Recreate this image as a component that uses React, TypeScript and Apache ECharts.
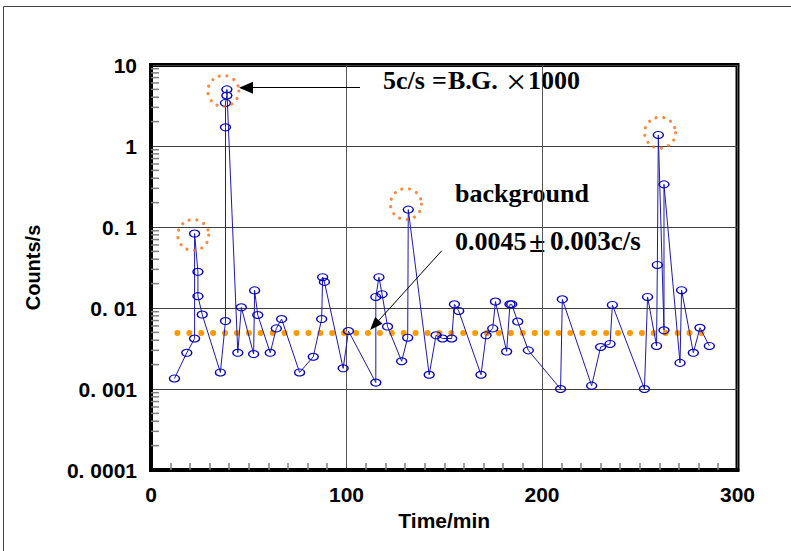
import React, { useEffect, useRef } from "react";
import * as echarts from "echarts";

// ---- data ----
const timeMin = [
  12.0, 18.3, 22.3, 22.3, 24.0, 24.0, 26.2, 35.5, 38.1, 38.1, 38.1, 38.8, 38.8, 44.4, 46.2,
  52.5, 53.0, 54.6, 61.0, 64.1, 66.8, 76.0, 83.0, 87.3, 87.8, 88.7, 98.3, 101.0, 115.0, 115.0,
  116.6, 118.2, 121.0, 128.2, 131.3, 131.6, 142.3, 145.8, 149.2, 153.8, 155.2, 157.4, 168.8,
  171.4, 174.8, 176.2, 181.9, 183.6, 184.5, 187.6, 193.0, 209.5, 210.4, 225.4, 230.0, 234.8,
  236.0, 252.4, 254.0, 258.6, 259.0, 259.5, 262.4, 262.4, 270.6, 271.4, 277.4, 280.8, 285.6,
];
const countsPerSec = [
  0.00135, 0.0028, 0.0042, 0.083, 0.028, 0.014, 0.0083, 0.0016, 0.0069, 1.7, 3.4, 4.2, 5.0,
  0.0028, 0.0102, 0.0027, 0.0165, 0.0082, 0.0028, 0.0056, 0.0073, 0.0016, 0.0025, 0.0073,
  0.024, 0.021, 0.0018, 0.0052, 0.0012, 0.0137, 0.024, 0.0148, 0.0059, 0.0022, 0.0043, 0.164,
  0.0015, 0.0046, 0.0042, 0.0042, 0.0111, 0.0092, 0.0015, 0.0046, 0.0056, 0.012, 0.0029,
  0.0111, 0.0111, 0.0068, 0.003, 0.001, 0.0128, 0.0011, 0.0033, 0.0036, 0.0109, 0.001, 0.0137,
  0.0034, 0.034, 1.37, 0.0053, 0.336, 0.0021, 0.0166, 0.0028, 0.0057, 0.0034,
];
const backgroundLevel = 0.0049;
const backgroundSpan = [13.5, 287];
const peakTimes = [21.6, 37.0, 130.4, 260.4];
const peakValues = [0.0796, 4.77, 0.192, 1.46];
const yTickLabels = ["0. 0001", "0. 001", "0. 01", "0. 1", "1", "10"];
const xTickLabels = ["0", "100", "200", "300"];
const yMinorMultipliers = [2, 3, 4, 5, 6, 7, 8, 9];
const decadeExponents = [-4, -3, -2, -1, 0];
// arrows: [fromTime, fromValue, toTime, toValue]
const arrowBG1000 = [106.9, 5.25, 48.6, 5.25];
const arrowBackground = [148.7, 0.0509, 114.3, 0.00614];

const AXIS_FONT = "Liberation Sans";
const NOTE_FONT = "Liberation Serif";

export default function App() {
  const ref = useRef<HTMLDivElement>(null);
  useEffect(() => {
    if (!ref.current) return;
    const chart = echarts.init(ref.current, null, { renderer: "svg" });
    const mainData = timeMin.map((t, i) => [t, countsPerSec[i]]);
    const minorData: number[][] = [];
    decadeExponents.forEach((e) =>
      yMinorMultipliers.forEach((m) => minorData.push([0, m * Math.pow(10, e)]))
    );
    const noteStyle = (text: string, size = 26, weight = "bold") => ({
      text,
      fontFamily: NOTE_FONT,
      fontWeight: weight,
      fontSize: size,
      fill: "#000",
      verticalAlign: "middle",
      align: "left",
    });
    chart.setOption({
      animation: false,
      backgroundColor: "#fff",
      grid: {
        left: 151,
        right: 53.5,
        top: 65,
        bottom: 81,
        show: true,
        borderColor: "#000",
        borderWidth: 4,
        backgroundColor: "transparent",
      },
      xAxis: {
        type: "value",
        min: 0,
        max: 300,
        interval: 100,
        name: "Time/min",
        nameLocation: "middle",
        nameGap: 40,
        nameTextStyle: { fontFamily: AXIS_FONT, fontWeight: "bold", fontSize: 21, color: "#000" },
        axisLine: { show: true, lineStyle: { color: "#000", width: 4 } },
        axisTick: { show: false, inside: true },
        minorTick: { show: true, splitNumber: 10, length: 7, lineStyle: { color: "#808080", width: 1.5 } },
        splitLine: { show: true, lineStyle: { color: "#555", width: 1 } },
        axisLabel: {
          margin: 14,
          fontFamily: AXIS_FONT,
          fontWeight: "bold",
          fontSize: 21,
          color: "#000",
          formatter: (v: number) => xTickLabels[Math.round(v / 100)] ?? String(v),
        },
      },
      yAxis: {
        type: "log",
        logBase: 10,
        min: 0.0001,
        max: 10,
        name: "Counts/s",
        nameLocation: "middle",
        nameGap: 108,
        nameTextStyle: { fontFamily: AXIS_FONT, fontWeight: "bold", fontSize: 20, color: "#000" },
        axisLine: { show: true, lineStyle: { color: "#000", width: 4 } },
        axisTick: { show: false },
        splitLine: { show: true, lineStyle: { color: "#404040", width: 1 } },
        axisLabel: {
          margin: 14,
          fontFamily: AXIS_FONT,
          fontWeight: "bold",
          fontSize: 21,
          color: "#000",
          formatter: (v: number) => yTickLabels[Math.round(Math.log10(v)) + 4] ?? String(v),
        },
      },
      graphic: [
        {
          type: "rect",
          shape: { x: 3.5, y: 6.5, width: 900, height: 700 },
          style: { fill: "none", stroke: "#444", lineWidth: 1 },
          silent: true,
          z: -10,
        },
        { type: "text", x: 383, y: 80.5, style: noteStyle("5c/s") },
        { type: "text", x: 432, y: 80.5, style: noteStyle("=") },
        { type: "text", x: 448, y: 80.5, style: noteStyle("B.") },
        { type: "text", x: 471, y: 80.5, style: noteStyle("G.") },
        { type: "text", x: 506, y: 81.5, style: noteStyle("×", 36, "normal") },
        { type: "text", x: 528, y: 80.5, style: noteStyle("1000") },
        { type: "text", x: 455, y: 193, style: noteStyle("background") },
        { type: "text", x: 455, y: 241.3, style: noteStyle("0.0045") },
        { type: "text", x: 529, y: 241.3, style: noteStyle("±", 30) },
        { type: "text", x: 550, y: 241.3, style: noteStyle("0.003c/s", 27) },
      ],
      series: [
        {
          type: "custom",
          silent: true,
          clip: false,
          data: minorData,
          renderItem: (_params: any, api: any) => {
            const p = api.coord([api.value(0), api.value(1)]);
            return {
              type: "line",
              shape: { x1: p[0], y1: p[1], x2: p[0] + 8, y2: p[1] },
              style: { stroke: "#808080", lineWidth: 1.5 },
            };
          },
          z: 1,
        },
        {
          type: "line",
          silent: true,
          data: [
            [backgroundSpan[0], backgroundLevel],
            [backgroundSpan[1], backgroundLevel],
          ],
          symbol: "none",
          lineStyle: { color: "#ff9900", width: 6, type: [0.01, 11.9], cap: "round" },
          z: 2,
          markLine: {
            silent: true,
            symbol: ["none", "triangle"],
            label: { show: false },
            lineStyle: { color: "#000", width: 1, type: "solid" },
            itemStyle: { color: "#000" },
            data: [
              [
                { coord: [arrowBG1000[0], arrowBG1000[1]], symbolSize: [12, 14] },
                { coord: [arrowBG1000[2], arrowBG1000[3]], symbolSize: [12, 14] },
              ],
              [
                { coord: [arrowBackground[0], arrowBackground[1]], symbolSize: [10, 13] },
                { coord: [arrowBackground[2], arrowBackground[3]], symbolSize: [10, 13] },
              ],
            ],
          },
        },
        {
          type: "line",
          silent: true,
          data: mainData,
          symbol: "circle",
          symbolSize: [10, 7],
          itemStyle: { color: "rgba(255,255,255,0)", borderColor: "#0000c0", borderWidth: 1.2 },
          lineStyle: { color: "#1a1ab0", width: 1 },
          z: 3,
        },
        {
          type: "scatter",
          silent: true,
          data: peakTimes.map((t, i) => [t, peakValues[i]]),
          symbol: "circle",
          symbolSize: 31,
          itemStyle: {
            color: "rgba(255,255,255,0)",
            borderColor: "#ff6a10",
            borderWidth: 3.2,
            borderType: [0.01, 7.6],
            borderCap: "round",
          },
          z: 4,
        },
      ],
    });
    return () => chart.dispose();
  }, []);
  return (
    <div
      ref={ref}
      style={{ position: "fixed", left: 0, top: 0, width: 791, height: 551, background: "#fff" }}
    />
  );
}
